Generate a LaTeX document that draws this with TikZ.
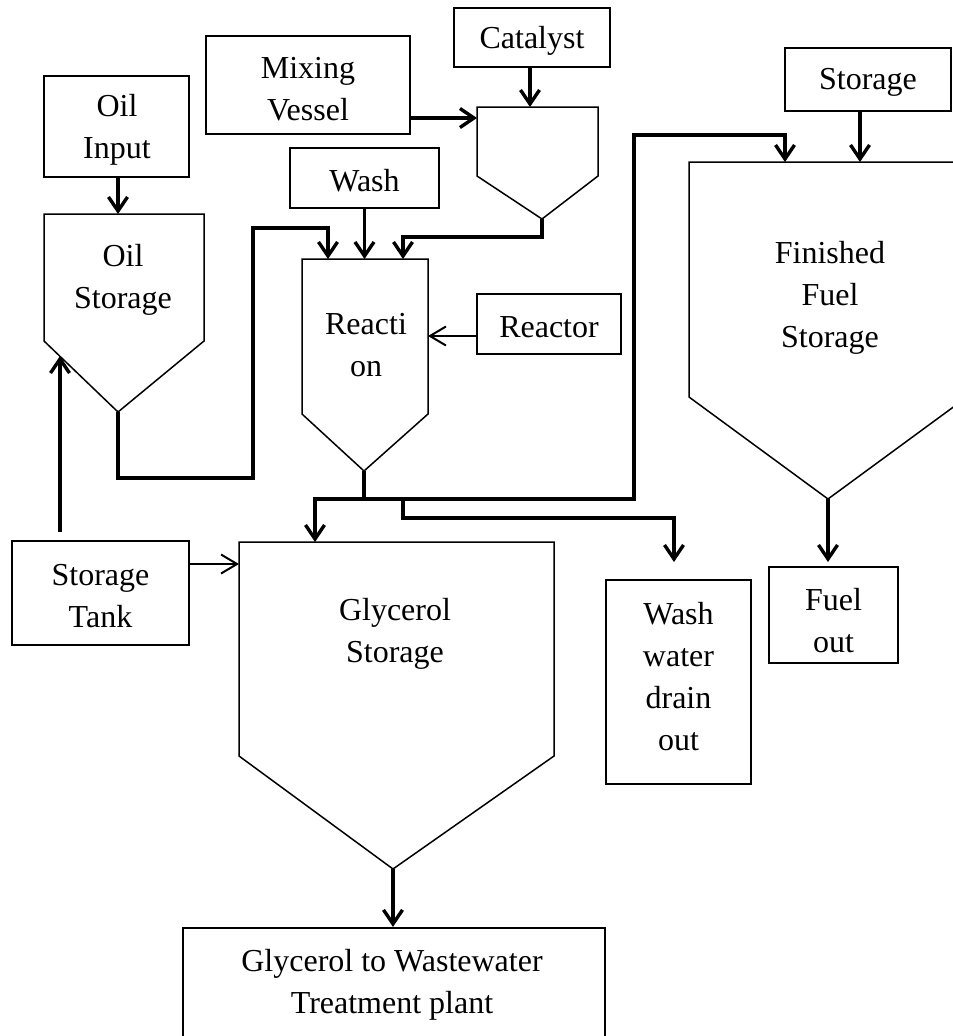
\documentclass[tikz,border=0pt]{standalone}
\usepackage{fontspec}
\setmainfont{Liberation Serif}
\usetikzlibrary{arrows.meta}
\begin{document}
\begin{tikzpicture}[x=1pt,y=-1pt,
  box/.style={draw, line width=2.2pt, inner sep=0pt},
  hop/.style={draw, line width=1.5pt, line join=miter},
  pipe/.style={line width=3.4pt},
  flow/.style={line width=3.4pt, -{Straight Barb[length=14pt,width=19pt]}},
  thinflow/.style={line width=2pt, -{Straight Barb[length=16pt,width=19pt]}},
  lbl/.style={align=center, inner sep=0pt, font=\fontsize{32}{42}\selectfont}
]
\useasboundingbox (0,0) rectangle (953,1036);
\clip (0,0) rectangle (953,1036);

% ---------- rectangular boxes ----------
\node[box, minimum width=145pt, minimum height=101pt] (oilin) at (116.5,126.5) {};
\node[lbl] (oilintext) at (117,130) {Oil\\Input};
\node[box, minimum width=204pt, minimum height=98pt] (mix) at (308,85) {};
\node[lbl] (mixtext) at (308,89) {Mixing\\Vessel};
\node[box, minimum width=149pt, minimum height=60pt] (wash) at (364.5,178) {};
\node[lbl] (washtext) at (364.5,181) {Wash};
\node[box, minimum width=156pt, minimum height=59pt] (cat) at (532,37.5) {};
\node[lbl] (cattext) at (532,41) {Catalyst};
\node[box, minimum width=166pt, minimum height=63pt] (stor) at (868,79.5) {};
\node[lbl] (stortext) at (868,82) {Storage};
\node[box, minimum width=144pt, minimum height=60pt] (reactor) at (549,324) {};
\node[lbl] (reactortext) at (549,327) {Reactor};
\node[box, minimum width=177pt, minimum height=104pt] (tank) at (100.5,593) {};
\node[lbl] (tanktext) at (100.5,596) {Storage\\Tank};
\node[box, minimum width=129pt, minimum height=96pt] (fuelout) at (833.5,615) {};
\node[lbl] (fuelouttext) at (833.5,621) {Fuel\\out};
\node[box, minimum width=145pt, minimum height=204pt] (ww) at (678.5,682) {};
\node[lbl] (wwtext) at (678.5,677) {Wash\\water\\drain\\out};
\node[box, minimum width=422pt, minimum height=112pt] (treat) at (394,984) {};
\node[lbl] (treattext) at (392,985) {Glycerol to Wastewater\\Treatment plant};

% ---------- hoppers ----------
% oil storage
\coordinate (os-tl) at (44,214);   \coordinate (os-tr) at (204,214);
\coordinate (os-bl) at (44,341);   \coordinate (os-br) at (204,341);
\coordinate (os-ap) at (118,412);
\draw[hop] (os-bl) -- (os-tl) -- (os-tr) -- (os-br) -- (os-ap) -- cycle;
\node[lbl] (ostext) at (123,280) {Oil\\Storage};

% mixing hopper
\coordinate (mh-tl) at (477,107);  \coordinate (mh-tr) at (598,107);
\coordinate (mh-bl) at (477,176);  \coordinate (mh-br) at (598,176);
\coordinate (mh-ap) at (542,219);
\draw[hop] (mh-bl) -- (mh-tl) -- (mh-tr) -- (mh-br) -- (mh-ap) -- cycle;

% reaction hopper
\coordinate (rx-tl) at (302,259);  \coordinate (rx-tr) at (428,259);
\coordinate (rx-bl) at (302,414);  \coordinate (rx-br) at (428,414);
\coordinate (rx-ap) at (364,471);
\draw[hop] (rx-bl) -- (rx-tl) -- (rx-tr) -- (rx-br) -- (rx-ap) -- cycle;
\node[lbl] (rxtext) at (366,345) {Reacti\\on};

% glycerol hopper
\coordinate (gl-tl) at (239,542);  \coordinate (gl-tr) at (554,542);
\coordinate (gl-bl) at (239,756);  \coordinate (gl-br) at (554,756);
\coordinate (gl-ap) at (393,869);
\draw[hop] (gl-bl) -- (gl-tl) -- (gl-tr) -- (gl-br) -- (gl-ap) -- cycle;
\node[lbl] (gltext) at (395,634) {Glycerol\\Storage};

% finished fuel hopper
\coordinate (ff-tl) at (689,162);  \coordinate (ff-tr) at (967,162);
\coordinate (ff-bl) at (689,397);  \coordinate (ff-br) at (967,397);
\coordinate (ff-ap) at (828,499);
\draw[hop] (ff-bl) -- (ff-tl) -- (ff-tr) -- (ff-br) -- (ff-ap) -- cycle;
\node[lbl] (fftext) at (830,298) {Finished\\Fuel\\Storage};

% ---------- connectors ----------
\draw[flow] (oilin.south -| os-ap) -- (os-ap |- os-tl);
\draw[flow] (mix.east |- 0,118) -- (mh-tl |- 0,118);
\draw[flow] (cat.south -| 530,0) -- (530,107);
\draw[flow] (mh-ap) -- (542,237) -- (403,237) -- (403,259);
\draw[flow] (wash.south) -- (wash.south |- rx-tl);
\draw[flow] (os-ap) -- (118,478) -- (253,478) -- (253,228) -- (328,228) -- (328,259);
\draw[thinflow] (reactor.west |- 0,336) -- (rx-tr |- 0,336);

\coordinate (split) at (364,499);
\draw[pipe] (rx-ap) -- (split);
\draw[flow] (split) -- (315,499) -- (315,542);
\draw[flow] (split) -- (634,499) -- (634,135) -- (785,135) -- (785,162);
\draw[flow] (403,499) -- (403,518) -- (674,518) -- (674,562);
\draw[flow] (stor.south -| 860,0) -- (860,162);
\draw[flow] (ff-ap) -- (828,562);
\coordinate (tankup) at (60,532);
\draw[flow] (tankup) -- (60,356);
\draw[thinflow] (tank.east |- 0,564) -- (gl-tl |- 0,564);
\draw[flow] (gl-ap) -- (treat.north -| gl-ap);
\end{tikzpicture}
\end{document}
